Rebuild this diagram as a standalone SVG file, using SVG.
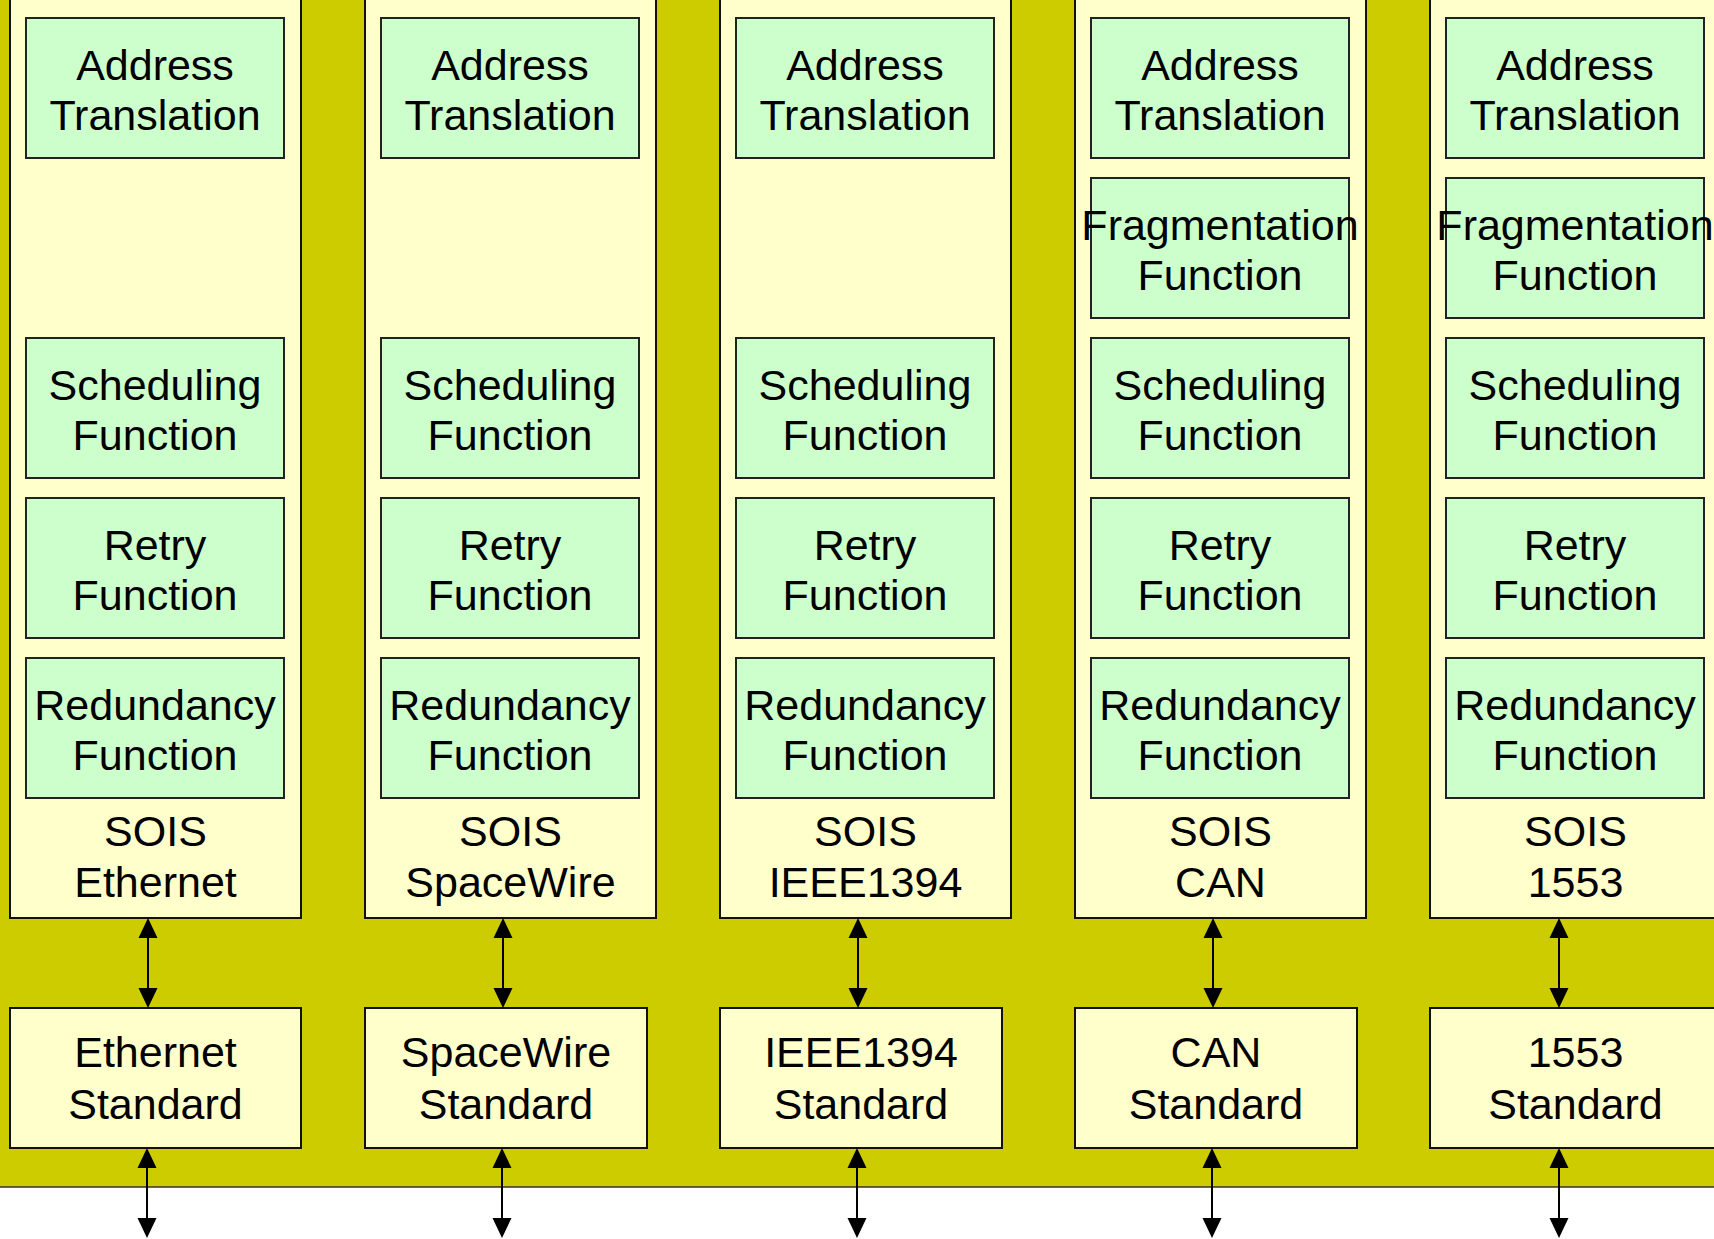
<svg xmlns="http://www.w3.org/2000/svg" width="1714" height="1239" viewBox="0 0 1714 1239">
  <style>
    .bg { fill: #CCCC00; stroke: #333333; stroke-width: 1.5; }
    .stack { fill: #FFFFCC; stroke: #111111; stroke-width: 2; }
    .func { fill: #CCFFCC; stroke: #222222; stroke-width: 2; }
    .std { fill: #FFFFCC; stroke: #111111; stroke-width: 2; }
    text { font-family: "Liberation Sans", Arial, sans-serif; font-size: 43px; fill: #000000; text-anchor: middle; }
    .link { stroke: #000000; stroke-width: 2; fill: none; marker-start: url(#head); marker-end: url(#head); }
  </style>
  <defs>
    <marker id="head" markerUnits="userSpaceOnUse" markerWidth="22" markerHeight="20" viewBox="0 0 20 20" refX="18" refY="10" orient="auto-start-reverse">
      <path d="M0,0.5 L20,10 L0,19.5 z" fill="#000000"/>
    </marker>
  </defs>

  <!-- backdrop -->
  <rect class="bg" x="-2" y="-2" width="1720" height="1189"/>

  <!-- column 1: Ethernet -->
  <g id="sois-ethernet">
    <rect class="stack" x="10" y="-5" width="291" height="923"/>
    <text x="155.5" y="846">SOIS</text>
    <text x="155.5" y="897">Ethernet</text>
  </g>
  <g id="eth-address"><rect class="func" x="26" y="18" width="258" height="140"/><text x="155" y="80">Address</text><text x="155" y="130">Translation</text></g>
  <g id="eth-scheduling"><rect class="func" x="26" y="338" width="258" height="140"/><text x="155" y="400">Scheduling</text><text x="155" y="450">Function</text></g>
  <g id="eth-retry"><rect class="func" x="26" y="498" width="258" height="140"/><text x="155" y="560">Retry</text><text x="155" y="610">Function</text></g>
  <g id="eth-redundancy"><rect class="func" x="26" y="658" width="258" height="140"/><text x="155" y="720">Redundancy</text><text x="155" y="770">Function</text></g>
  <g id="eth-standard"><rect class="std" x="10" y="1008" width="291" height="140"/><text x="155.5" y="1067">Ethernet</text><text x="155.5" y="1119">Standard</text></g>

  <!-- column 2: SpaceWire -->
  <g id="sois-spacewire">
    <rect class="stack" x="365" y="-5" width="291" height="923"/>
    <text x="510.5" y="846">SOIS</text>
    <text x="510.5" y="897">SpaceWire</text>
  </g>
  <g id="spw-address"><rect class="func" x="381" y="18" width="258" height="140"/><text x="510" y="80">Address</text><text x="510" y="130">Translation</text></g>
  <g id="spw-scheduling"><rect class="func" x="381" y="338" width="258" height="140"/><text x="510" y="400">Scheduling</text><text x="510" y="450">Function</text></g>
  <g id="spw-retry"><rect class="func" x="381" y="498" width="258" height="140"/><text x="510" y="560">Retry</text><text x="510" y="610">Function</text></g>
  <g id="spw-redundancy"><rect class="func" x="381" y="658" width="258" height="140"/><text x="510" y="720">Redundancy</text><text x="510" y="770">Function</text></g>
  <g id="spw-standard"><rect class="std" x="365" y="1008" width="282" height="140"/><text x="506" y="1067">SpaceWire</text><text x="506" y="1119">Standard</text></g>

  <!-- column 3: IEEE1394 -->
  <g id="sois-ieee1394">
    <rect class="stack" x="720" y="-5" width="291" height="923"/>
    <text x="865.5" y="846">SOIS</text>
    <text x="865.5" y="897">IEEE1394</text>
  </g>
  <g id="fw-address"><rect class="func" x="736" y="18" width="258" height="140"/><text x="865" y="80">Address</text><text x="865" y="130">Translation</text></g>
  <g id="fw-scheduling"><rect class="func" x="736" y="338" width="258" height="140"/><text x="865" y="400">Scheduling</text><text x="865" y="450">Function</text></g>
  <g id="fw-retry"><rect class="func" x="736" y="498" width="258" height="140"/><text x="865" y="560">Retry</text><text x="865" y="610">Function</text></g>
  <g id="fw-redundancy"><rect class="func" x="736" y="658" width="258" height="140"/><text x="865" y="720">Redundancy</text><text x="865" y="770">Function</text></g>
  <g id="fw-standard"><rect class="std" x="720" y="1008" width="282" height="140"/><text x="861" y="1067">IEEE1394</text><text x="861" y="1119">Standard</text></g>

  <!-- column 4: CAN -->
  <g id="sois-can">
    <rect class="stack" x="1075" y="-5" width="291" height="923"/>
    <text x="1220.5" y="846">SOIS</text>
    <text x="1220.5" y="897">CAN</text>
  </g>
  <g id="can-address"><rect class="func" x="1091" y="18" width="258" height="140"/><text x="1220" y="80">Address</text><text x="1220" y="130">Translation</text></g>
  <g id="can-fragmentation"><rect class="func" x="1091" y="178" width="258" height="140"/><text x="1220" y="240">Fragmentation</text><text x="1220" y="290">Function</text></g>
  <g id="can-scheduling"><rect class="func" x="1091" y="338" width="258" height="140"/><text x="1220" y="400">Scheduling</text><text x="1220" y="450">Function</text></g>
  <g id="can-retry"><rect class="func" x="1091" y="498" width="258" height="140"/><text x="1220" y="560">Retry</text><text x="1220" y="610">Function</text></g>
  <g id="can-redundancy"><rect class="func" x="1091" y="658" width="258" height="140"/><text x="1220" y="720">Redundancy</text><text x="1220" y="770">Function</text></g>
  <g id="can-standard"><rect class="std" x="1075" y="1008" width="282" height="140"/><text x="1216" y="1067">CAN</text><text x="1216" y="1119">Standard</text></g>

  <!-- column 5: 1553 -->
  <g id="sois-1553">
    <rect class="stack" x="1430" y="-5" width="291" height="923"/>
    <text x="1575.5" y="846">SOIS</text>
    <text x="1575.5" y="897">1553</text>
  </g>
  <g id="mil-address"><rect class="func" x="1446" y="18" width="258" height="140"/><text x="1575" y="80">Address</text><text x="1575" y="130">Translation</text></g>
  <g id="mil-fragmentation"><rect class="func" x="1446" y="178" width="258" height="140"/><text x="1575" y="240">Fragmentation</text><text x="1575" y="290">Function</text></g>
  <g id="mil-scheduling"><rect class="func" x="1446" y="338" width="258" height="140"/><text x="1575" y="400">Scheduling</text><text x="1575" y="450">Function</text></g>
  <g id="mil-retry"><rect class="func" x="1446" y="498" width="258" height="140"/><text x="1575" y="560">Retry</text><text x="1575" y="610">Function</text></g>
  <g id="mil-redundancy"><rect class="func" x="1446" y="658" width="258" height="140"/><text x="1575" y="720">Redundancy</text><text x="1575" y="770">Function</text></g>
  <g id="mil-standard"><rect class="std" x="1430" y="1008" width="291" height="140"/><text x="1575.5" y="1067">1553</text><text x="1575.5" y="1119">Standard</text></g>

  <!-- bidirectional links: stack to standard, standard to bus -->
  <g id="connectors">
    <line class="link" x1="148" y1="920" x2="148" y2="1006"/>
    <line class="link" x1="147" y1="1150" x2="147" y2="1236"/>
    <line class="link" x1="503" y1="920" x2="503" y2="1006"/>
    <line class="link" x1="502" y1="1150" x2="502" y2="1236"/>
    <line class="link" x1="858" y1="920" x2="858" y2="1006"/>
    <line class="link" x1="857" y1="1150" x2="857" y2="1236"/>
    <line class="link" x1="1213" y1="920" x2="1213" y2="1006"/>
    <line class="link" x1="1212" y1="1150" x2="1212" y2="1236"/>
    <line class="link" x1="1559" y1="920" x2="1559" y2="1006"/>
    <line class="link" x1="1559" y1="1150" x2="1559" y2="1236"/>
  </g>
</svg>
